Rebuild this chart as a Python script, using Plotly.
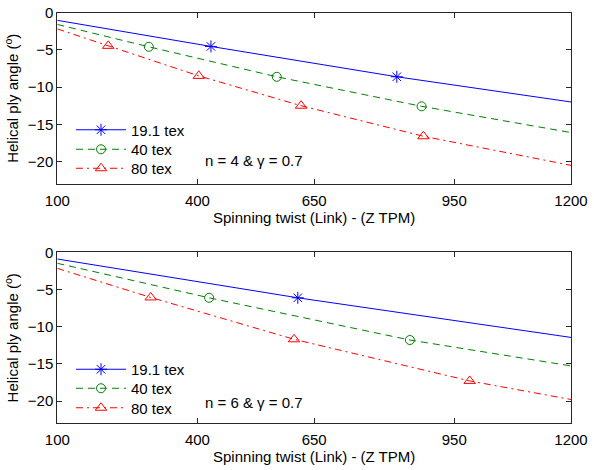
import plotly.graph_objects as go

# ---------------- data ----------------
# Top panel: n = 4 & gamma = 0.7
top_x_191 = [100, 429, 827, 1200]
top_y_191 = [-1.05, -4.55, -8.62, -12.0]
top_mx_191 = [429, 827]
top_my_191 = [-4.55, -8.62]

top_x_40 = [100, 296, 570, 880, 1200]
top_y_40 = [-1.6, -4.6, -8.62, -12.58, -16.1]
top_mx_40 = [296, 570, 880]
top_my_40 = [-4.6, -8.62, -12.58]

top_x_80 = [100, 209, 403, 622, 884, 1200]
top_y_80 = [-2.2, -4.47, -8.5, -12.5, -16.6, -20.5]
top_mx_80 = [209, 403, 622, 884]
top_my_80 = [-4.47, -8.5, -12.5, -16.6]

# Bottom panel: n = 6 & gamma = 0.7
bot_x_191 = [100, 615, 1200]
bot_y_191 = [-0.9, -6.12, -11.45]
bot_mx_191 = [615]
bot_my_191 = [-6.12]

bot_x_40 = [100, 425, 855, 1200]
bot_y_40 = [-1.48, -6.12, -11.8, -15.28]
bot_mx_40 = [425, 855]
bot_my_40 = [-6.12, -11.8]

bot_x_80 = [100, 300, 607, 983, 1200]
bot_y_80 = [-2.16, -6.07, -11.7, -17.3, -19.8]
bot_mx_80 = [300, 607, 983]
bot_my_80 = [-6.07, -11.7, -17.3]

series_names = ["19.1 tex", "40 tex", "80 tex"]
x_ticks = [100, 400, 650, 950, 1200]
y_ticks = [0, -5, -10, -15, -20]
x_title = "Spinning twist (Link) - (Z TPM)"
y_title = "Helical ply angle (<sup>o</sup>)"
notes = ["n = 4 & γ = 0.7", "n = 6 & γ = 0.7"]

# ---------------- styling ----------------
FONT = "Liberation Sans, Arial, Helvetica, sans-serif"
FS = 15
colors = ["#0000ff", "#008000", "#ff0000"]
dashes = ["solid", "7px,5px", "7px,4px,2px,4px"]
symbols = ["asterisk-open", "circle-open", "triangle-up-open"]
msizes = [10, 9, 10]
# legend row centres (px from top) for each panel
legend_rows = [[130, 149.5, 168.5], [369.5, 388.5, 408]]
LEG_X = 71

fig = go.Figure()

panels = [
    ("x", "y",
     [(top_x_191, top_y_191, top_mx_191, top_my_191),
      (top_x_40, top_y_40, top_mx_40, top_my_40),
      (top_x_80, top_y_80, top_mx_80, top_my_80)]),
    ("x2", "y2",
     [(bot_x_191, bot_y_191, bot_mx_191, bot_my_191),
      (bot_x_40, bot_y_40, bot_mx_40, bot_my_40),
      (bot_x_80, bot_y_80, bot_mx_80, bot_my_80)]),
]

legend_layouts = {}
for p, (xa, ya, data) in enumerate(panels):
    for i, (lx, ly, mx, my) in enumerate(data):
        fig.add_trace(go.Scatter(
            x=lx, y=ly, mode="lines", xaxis=xa, yaxis=ya,
            line=dict(color=colors[i], width=1, dash=dashes[i]),
            showlegend=False, hoverinfo="skip"))
        fig.add_trace(go.Scatter(
            x=mx, y=my, mode="markers", xaxis=xa, yaxis=ya,
            marker=dict(symbol=symbols[i], size=msizes[i], color=colors[i],
                        line=dict(color=colors[i], width=1)),
            showlegend=False))
        k = p * 3 + i + 1
        lg = "legend" if k == 1 else f"legend{k}"
        # legend entry (line + marker sample)
        fig.add_trace(go.Scatter(
            x=[None], y=[None], mode="lines+markers", xaxis=xa, yaxis=ya,
            name=series_names[i], legend=lg,
            line=dict(color=colors[i], width=1, dash=dashes[i]),
            marker=dict(symbol=symbols[i], size=msizes[i], color=colors[i],
                        line=dict(color=colors[i], width=1))))
        legend_layouts[lg] = dict(
            x=LEG_X / 594, y=1 - legend_rows[p][i] / 470,
            xanchor="left", yanchor="middle",
            bgcolor="rgba(0,0,0,0)", borderwidth=0,
            font=dict(family=FONT, size=FS, color="#000"), itemwidth=50)

axis_common = dict(
    showline=True, linecolor="#262626", linewidth=1, mirror="ticks",
    ticks="inside", ticklen=5, tickwidth=1, tickcolor="#262626",
    showgrid=False, zeroline=False, automargin=False,
    tickfont=dict(family=FONT, size=FS, color="#000"),
)

xdom = [57.3 / 594, 571 / 594]
top_dom = [1 - 184 / 470, 1 - 12.5 / 470]
bot_dom = [1 - 423.3 / 470, 1 - 252.3 / 470]

fig.update_layout(
    width=594, height=470,
    margin=dict(l=0, r=0, t=0, b=0),
    paper_bgcolor="white", plot_bgcolor="white",
    font=dict(family=FONT, size=FS, color="#000"),
    xaxis=dict(domain=xdom, anchor="y", range=[100, 1200], tickvals=x_ticks,
               ticklabelstandoff=3,
               title=dict(text=x_title, font=dict(family=FONT, size=FS), standoff=3),
               **axis_common),
    yaxis=dict(domain=top_dom, anchor="x", range=[-23, 0], tickvals=y_ticks,
               title=dict(text=y_title, font=dict(family=FONT, size=FS), standoff=5),
               **axis_common),
    xaxis2=dict(domain=xdom, anchor="y2", range=[100, 1200], tickvals=x_ticks,
                ticklabelstandoff=3,
                title=dict(text=x_title, font=dict(family=FONT, size=FS), standoff=3),
                **axis_common),
    yaxis2=dict(domain=bot_dom, anchor="x2", range=[-23, 0], tickvals=y_ticks,
                title=dict(text=y_title, font=dict(family=FONT, size=FS), standoff=5),
                **axis_common),
    annotations=[
        dict(text=notes[0], xref="paper", yref="paper", x=203 / 594, y=1 - 160 / 470,
             xanchor="left", yanchor="middle", showarrow=False,
             font=dict(family=FONT, size=FS, color="#000")),
        dict(text=notes[1], xref="paper", yref="paper", x=203 / 594, y=1 - 402.5 / 470,
             xanchor="left", yanchor="middle", showarrow=False,
             font=dict(family=FONT, size=FS, color="#000")),
    ],
    **legend_layouts,
)

fig.write_html("out.html")
